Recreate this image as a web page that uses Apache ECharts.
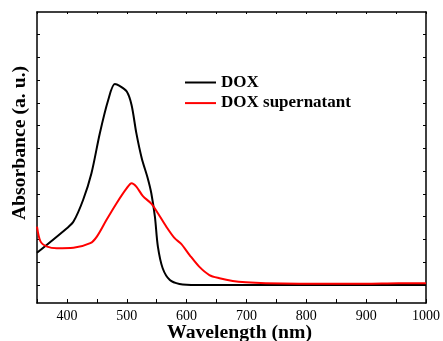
<!DOCTYPE html>
<html>
<head>
<meta charset="utf-8">
<script src="https://cdn.jsdelivr.net/npm/echarts@6/dist/echarts.min.js"></script>
<style>html,body{margin:0;padding:0;background:#fff}#c{width:443px;height:341px}</style>
</head>
<body>
<div id="c"></div>
<script>
var seriesNames = ['DOX', 'DOX supernatant'];
var doxWavelength = [350, 400, 411, 427, 441, 455, 469, 480, 488, 500, 508, 516, 525, 535, 541, 547, 552, 560, 572, 588, 616, 700, 800, 900, 1000];
var doxAbsorbance = [0.221, 0.329, 0.358, 0.453, 0.571, 0.747, 0.893, 0.963, 0.955, 0.930, 0.871, 0.747, 0.637, 0.549, 0.483, 0.380, 0.248, 0.153, 0.101, 0.084, 0.079, 0.079, 0.079, 0.079, 0.079];
var supWavelength = [350, 356, 367, 383, 411, 439, 450, 466, 483, 500, 508, 516, 527, 541, 552, 566, 580, 591, 605, 621, 638, 655, 677, 699, 732, 788, 898, 954, 1000];
var supAbsorbance = [0.336, 0.270, 0.248, 0.241, 0.243, 0.263, 0.292, 0.365, 0.439, 0.505, 0.527, 0.512, 0.470, 0.437, 0.395, 0.336, 0.285, 0.260, 0.211, 0.160, 0.123, 0.109, 0.097, 0.091, 0.087, 0.085, 0.085, 0.087, 0.087];
var xTickLabels = [400, 500, 600, 700, 800, 900, 1000];
var yTickValues = [0.08, 0.18, 0.28, 0.38, 0.48, 0.58, 0.68, 0.78, 0.88, 0.98, 1.08, 1.18];
var xTitle = 'Wavelength (nm)';
var yTitle = 'Absorbance (a. u.)';

function zip(a, b) { return a.map(function (v, i) { return [v, b[i]]; }); }

var serif = 'Liberation Serif';
var chart = echarts.init(document.getElementById('c'), null, { renderer: 'canvas' });
var axisLine = { show: true, onZero: false, lineStyle: { color: '#000', width: 1.5 } };
var xCommon = {
  type: 'value', min: 350, max: 1000, interval: 50,
  axisLine: axisLine, splitLine: { show: false },
  axisTick: { show: true, inside: true, length: 4, lineStyle: { color: '#000', width: 1 } }
};
var yCommon = {
  type: 'value', min: 0, max: 1.28,
  axisLine: axisLine, splitLine: { show: false },
  axisTick: { show: true, inside: true, length: 3, customValues: yTickValues, lineStyle: { color: '#000', width: 1 } },
  axisLabel: { show: false }
};
chart.setOption({
  animation: false,
  backgroundColor: '#fff',
  grid: { left: 37, right: 15, top: 12, bottom: 38, containLabel: false },
  legend: {
    left: 185, top: 74, orient: 'vertical', padding: 0, itemGap: 3.6,
    icon: 'rect', itemWidth: 31, itemHeight: 2,
    textStyle: { fontFamily: serif, fontWeight: 'bold', fontSize: 17, color: '#000', lineHeight: 17 },
    data: seriesNames
  },
  xAxis: [
    Object.assign({}, xCommon, {
      position: 'bottom',
      axisLabel: {
        show: true, margin: 6, color: '#000', fontFamily: serif, fontSize: 14,
        formatter: function (v) { return xTickLabels.indexOf(v) >= 0 ? String(v) : ''; }
      }
    }),
    Object.assign({}, xCommon, { position: 'top', axisLabel: { show: false }, axisTick: Object.assign({}, xCommon.axisTick, { length: 2 }) })
  ],
  yAxis: [
    Object.assign({}, yCommon, { position: 'left' }),
    Object.assign({}, yCommon, { position: 'right' })
  ],
  graphic: [
    { type: 'text', x: 20, y: 143, rotation: Math.PI / 2,
      style: { text: yTitle, font: 'bold 19.7px "Liberation Serif"', fill: '#000', textAlign: 'center', textVerticalAlign: 'middle' } },
    { type: 'text', x: 239.5, y: 332.5,
      style: { text: xTitle, font: 'bold 19.7px "Liberation Serif"', fill: '#000', textAlign: 'center', textVerticalAlign: 'middle' } }
  ],
  series: [
    { name: seriesNames[0], type: 'line', data: zip(doxWavelength, doxAbsorbance), smooth: 0.3, showSymbol: false,
      lineStyle: { color: '#000', width: 2 }, itemStyle: { color: '#000' } },
    { name: seriesNames[1], type: 'line', data: zip(supWavelength, supAbsorbance), smooth: 0.3, showSymbol: false,
      lineStyle: { color: '#ff0000', width: 2 }, itemStyle: { color: '#ff0000' } }
  ]
});
</script>
</body>
</html>
